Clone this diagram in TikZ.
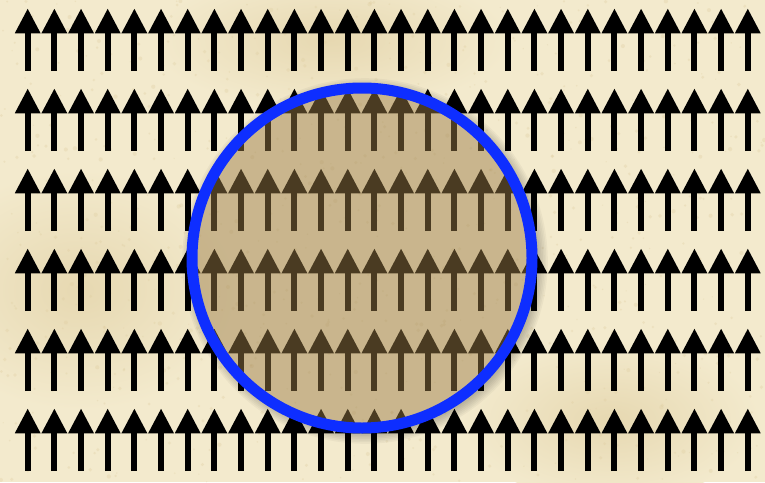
\documentclass[tikz,border=0pt]{standalone}
\usetikzlibrary{arrows.meta}
\definecolor{ParchLight}{RGB}{243,234,205}
\definecolor{ParchDark}{RGB}{222,204,158}
\definecolor{LensBrown}{RGB}{156,125,73}
\definecolor{LensBlue}{RGB}{14,46,255}
\tikzset{
  spinarrow/.style={line width=6pt,-{Triangle[width=24pt,length=25pt]}},
  lensring/.style={draw=LensBlue,line width=11pt,fill=LensBrown,fill opacity=0.48},
  stain/.style={inner color=ParchDark!60!ParchLight,outer color=ParchLight}
}

\begin{document}
\begin{tikzpicture}[x=1pt,y=-1pt]
  \useasboundingbox (0,0) rectangle (765,482);
  \fill[ParchLight] (0,0) rectangle (765,482);
  % paper stains and grain
  \shade[stain] (80,290) ellipse (160 and 120);
  \shade[stain] (330,40) ellipse (180 and 70);
  \shade[stain] (610,420) ellipse (150 and 80);
  \pgfmathsetseed{11}
  \foreach \i in {1,...,900}
    \fill[ParchDark,opacity=0.3] ({rnd*765},{rnd*482}) circle ({0.6+rnd*1.6});
  % rows of spins
  \foreach \row in {0,...,5}
    \foreach \col in {0,...,27}
      \draw[spinarrow] ({27.7+26.67*\col},{71+80*\row}) -- ({27.7+26.67*\col},{8.3+80*\row});
  % soft shadow round the lens
  \foreach \k in {1,...,8}
    \fill[black,opacity=0.035,even odd rule] (365,261) circle ({170+\k*1.6}) (362,258) circle (170);
  \draw[lensring] (362,258) circle (170);
\end{tikzpicture}
\end{document}
